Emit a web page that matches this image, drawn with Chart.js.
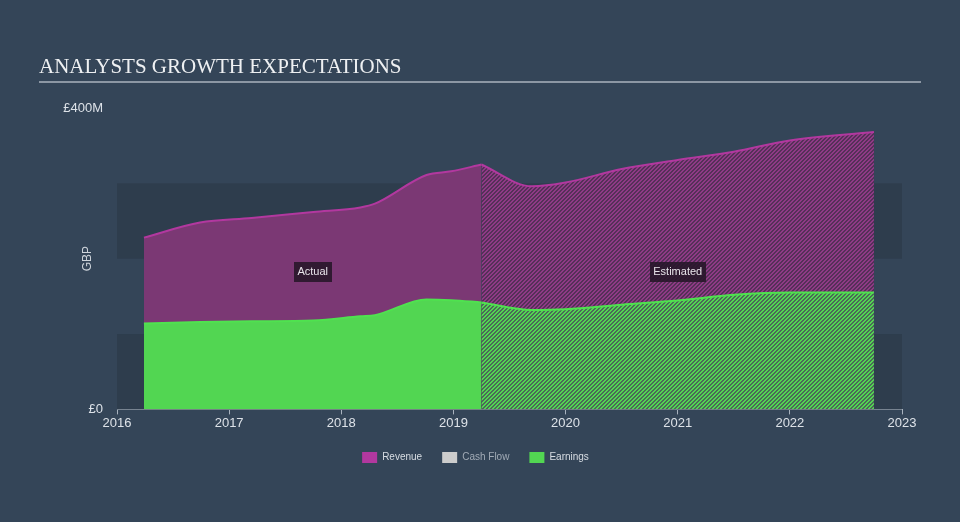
<!DOCTYPE html>
<html><head><meta charset="utf-8">
<script src="https://cdn.jsdelivr.net/npm/chart.js@4.4.1/dist/chart.umd.min.js"></script>
<style>html,body{margin:0;padding:0;background:#344558;overflow:hidden;}#wrap{position:relative;width:960px;height:522px;}</style>
</head><body><div id="wrap"><canvas id="c"></canvas></div>
<script>
// ---- data ----
const chartTitle = 'ANALYSTS GROWTH EXPECTATIONS';
const yAxisTitle = 'GBP';
const yTickValues = [0, 400];
const yTickLabels = ['£0', '£400M'];
const xMin = 2016, xMax = 2023;
const bandRanges = [[0, 100], [200, 300]];
const legendNames = ['Revenue', 'Cash Flow', 'Earnings'];
const regionLabels = ['Actual', 'Estimated'];

const actualDates = [2016.24, 2016.74, 2017.2, 2017.75, 2018.17, 2018.3, 2018.76, 2018.98, 2019.25];
const revenueActual = [228, 248, 254, 262, 268, 273, 311, 316, 325];
const earningsActual = [114, 116, 117, 118, 123.5, 125, 146, 145, 142];

const estimateDates = [2019.25, 2019.7, 2020.0, 2020.5, 2021.0, 2021.5, 2022.0, 2022.75];
const revenueEstimate = [325, 296, 301, 319, 331, 342, 357, 368];
const earningsEstimate = [142, 132, 133, 139, 144.5, 152, 155, 155];

// ---- styles ----
const C = {
  revFill: '#7b3874', revLine: '#b2389f',
  earnFill: '#52d652', earnLine: '#4fe24f',
  cash: '#cccccc', band: '#2e3d4d', axis: '#a9b3bf', text: '#dde2e8'
};

function hatch(c1, c2) {
  const t = document.createElement('canvas');
  t.width = 4; t.height = 4;
  const g = t.getContext('2d');
  for (let x = 0; x < 4; x++) for (let y = 0; y < 4; y++) {
    g.fillStyle = ((x + y) % 4) < 2 ? c1 : c2;
    g.fillRect(x, y, 1, 1);
  }
  return g.createPattern(t, 'repeat');
}
const revHatch = hatch('#8f3a86', '#553058');
const earnHatch = hatch('#52d652', '#4b6a57');

const pts = (xs, ys) => xs.map((x, i) => ({x, y: ys[i]}));

const bandsPlugin = {
  id: 'bands',
  afterLayout(chart) {
    if (chart.legend) { chart.legend.left += 5; chart.legend.right += 5; }
  },
  beforeDatasetsDraw(chart) {
    const {ctx, chartArea: a, scales: {y}} = chart;
    ctx.save();
    ctx.fillStyle = C.band;
    bandRanges.forEach(([lo, hi]) => {
      const y1 = y.getPixelForValue(hi), y0 = y.getPixelForValue(lo);
      ctx.fillRect(a.left, y1, a.right - a.left, y0 - y1);
    });
    ctx.restore();
  }
};

const decorPlugin = {
  id: 'decor',
  afterDraw(chart) {
    const {ctx, scales: {x, y}} = chart;
    const tb = chart.titleBlock;
    ctx.save();
    ctx.strokeStyle = '#aab3be';
    ctx.lineWidth = 1.5;
    ctx.beginPath();
    ctx.moveTo(tb.left, 82);
    ctx.lineTo(chart.width - 39, 82);
    ctx.stroke();
    const ranges = [[actualDates[0], actualDates[actualDates.length - 1]], [estimateDates[0], estimateDates[estimateDates.length - 1]]];
    ctx.font = '11px "Liberation Sans", Arial, sans-serif';
    ctx.textAlign = 'center';
    ctx.textBaseline = 'middle';
    regionLabels.forEach((t, i) => {
      const cx = x.getPixelForValue((ranges[i][0] + ranges[i][1]) / 2);
      const cy = y.getPixelForValue(183);
      const w = ctx.measureText(t).width + 7;
      ctx.fillStyle = 'rgba(38,22,40,0.88)';
      ctx.fillRect(Math.round(cx - w / 2), Math.round(cy - 10), Math.round(w), 20);
      ctx.fillStyle = '#e8e4ea';
      ctx.fillText(t, cx, cy + 0.5);
    });
    ctx.restore();
  }
};

const common = {fill: 'origin', pointRadius: 0, borderWidth: 2, cubicInterpolationMode: 'monotone'};

new Chart(document.getElementById('c'), {
  type: 'line',
  data: {
    datasets: [
      {...common, label: 'Revenue', data: pts(actualDates, revenueActual), backgroundColor: C.revFill, borderColor: C.revLine, order: 2},
      {...common, label: 'Revenue est', data: pts(estimateDates, revenueEstimate), backgroundColor: revHatch, borderColor: C.revLine, order: 2},
      {...common, label: 'Earnings', data: pts(actualDates, earningsActual), backgroundColor: C.earnFill, borderColor: C.earnLine, order: 1},
      {...common, label: 'Earnings est', data: pts(estimateDates, earningsEstimate), backgroundColor: earnHatch, borderColor: C.earnLine, order: 1}
    ]
  },
  options: {
    responsive: true, maintainAspectRatio: false, animation: false,
    layout: {padding: {left: 39, right: 58, top: 0, bottom: 49}},
    plugins: {
      tooltip: {enabled: false},
      title: {
        display: true, text: chartTitle, align: 'start', color: '#eef0f2',
        font: {family: '"Liberation Serif", "Times New Roman", serif', size: 21, weight: 'normal', lineHeight: 1.2},
        padding: {top: 54.4, bottom: 28.4}
      },
      legend: {
        position: 'bottom', onClick: null,
        labels: {
          boxWidth: 15, boxHeight: 11, padding: 20,
          font: {family: '"Liberation Sans", Arial, sans-serif', size: 10},
          generateLabels: () => [
            {text: legendNames[0], fillStyle: '#b2389f', strokeStyle: '#b2389f', lineWidth: 0, fontColor: '#d8dde3', hidden: false},
            {text: legendNames[1], fillStyle: C.cash, strokeStyle: C.cash, lineWidth: 0, fontColor: '#a2abb6', hidden: false},
            {text: legendNames[2], fillStyle: C.earnFill, strokeStyle: C.earnFill, lineWidth: 0, fontColor: '#d8dde3', hidden: false}
          ]
        }
      }
    },
    scales: {
      x: {
        type: 'linear', min: xMin, max: xMax,
        border: {display: true, color: C.axis, width: 1},
        grid: {display: true, drawOnChartArea: false, drawTicks: true, tickLength: 5, color: C.axis},
        ticks: {stepSize: 1, autoSkip: false, maxRotation: 0, padding: 1, color: C.text,
          font: {family: '"Liberation Sans", Arial, sans-serif', size: 13},
          callback: v => String(v)}
      },
      y: {
        min: 0, max: 400,
        border: {display: false},
        grid: {display: false, drawTicks: false},
        afterBuildTicks: s => { s.ticks = yTickValues.map(v => ({value: v})); },
        afterFit: s => { s.width = 78; },
        ticks: {padding: 14, color: C.text,
          font: {family: '"Liberation Sans", Arial, sans-serif', size: 13},
          callback: (v) => yTickLabels[yTickValues.indexOf(v)]},
        title: {display: true, text: yAxisTitle, color: '#cfd5dc', padding: {top: 41, bottom: 0},
          font: {family: '"Liberation Sans", Arial, sans-serif', size: 12}}
      }
    }
  },
  plugins: [bandsPlugin, decorPlugin]
});
</script></body></html>
